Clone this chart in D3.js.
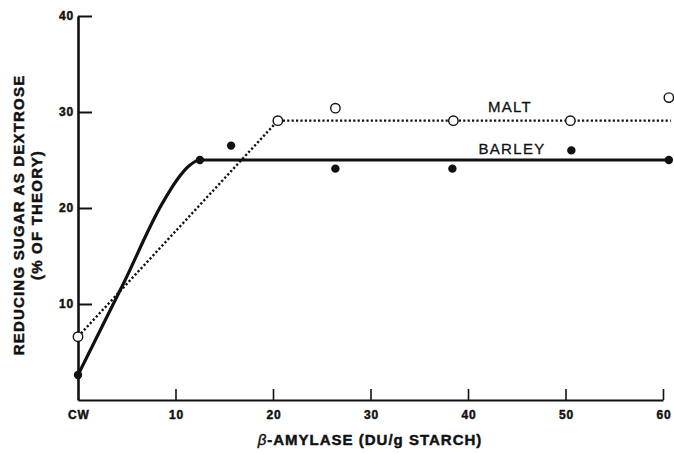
<!DOCTYPE html>
<html>
<head>
<meta charset="utf-8">
<script src="https://cdn.jsdelivr.net/npm/d3@7"></script>
<style>
  html, body { margin: 0; padding: 0; background: #fff; }
  svg { display: block; }
  text { font-family: "Liberation Sans", Arial, Helvetica, sans-serif; fill: #111; }
</style>
</head>
<body>
<svg id="chart" width="674" height="454"></svg>
<script>
// Measured points: beta-amylase dose (DU/g starch; CW = 0) vs reducing sugar (% of theory)
const maltDose    = [0, 20.5, 26.4, 38.5, 50.5, 60.6];
const maltSugar   = [6.6, 29.1, 30.4, 29.1, 29.1, 31.5];
const barleyDose  = [0, 12.5, 15.7, 26.4, 38.4, 50.6, 60.6];
const barleySugar = [2.6, 25.0, 26.5, 24.1, 24.1, 26.0, 25.0];

// Fitted response curves
const maltFitDose    = [0, 20.5, 60.8];
const maltFitSugar   = [6.6, 29.1, 29.1];
const barleyFitDose  = [0, 4.6, 8.6, 10.2, 11.4, 12.5, 60.6];
const barleyFitSugar = [2.6, 12.0, 20.4, 23.0, 24.4, 25.0, 25.0];

// Axis ticks and labels
const xTicks = [0, 10, 20, 30, 40, 50, 60];
const xTickLabels = ["CW", "10", "20", "30", "40", "50", "60"];
const yTicks = [10, 20, 30, 40];
const seriesNames = ["MALT", "BARLEY"];

const zip = (a, b) => a.map((v, i) => [v, b[i]]);
const FONT = '"Liberation Sans", Arial, sans-serif';

// Heavier bold text, like a photoset Helvetica Bold
const heavy = sel => sel.attr("stroke", "#111").attr("stroke-width", 0.45)
  .attr("paint-order", "stroke");

const svg = d3.select("#chart");
const x = d3.scaleLinear().domain([0, 60]).range([78, 663]);
const y = d3.scaleLinear().domain([0, 40]).range([400, 16]);

// Y axis: ticks point inward
const yAxis = svg.append("g")
  .attr("transform", `translate(${x(0)},0)`)
  .call(d3.axisLeft(y).tickValues(yTicks).tickSizeInner(-14).tickSizeOuter(0).tickPadding(4));
yAxis.select(".domain").attr("stroke", "#111").attr("stroke-width", 2.6);
yAxis.selectAll(".tick line").attr("stroke", "#111").attr("stroke-width", 2);
yAxis.selectAll(".tick text")
  .attr("font-size", 12).attr("font-weight", "bold").attr("letter-spacing", 0.8)
  .style("font-family", FONT).attr("fill", "#111").call(heavy);

// X axis: ticks point upward, CW marks the zero dose
const xAxis = svg.append("g")
  .attr("transform", `translate(0,${y(0)})`)
  .call(d3.axisBottom(x).tickValues(xTicks)
    .tickFormat((d, i) => xTickLabels[i])
    .tickSizeInner(-11).tickSizeOuter(0).tickPadding(10));
xAxis.select(".domain").attr("stroke", "#111").attr("stroke-width", 2);
xAxis.selectAll(".tick line").attr("stroke", "#111").attr("stroke-width", 1.6)
  .filter(d => d === 0).remove();
xAxis.selectAll(".tick text")
  .attr("font-size", 12).attr("font-weight", "bold").attr("letter-spacing", 0.8)
  .attr("dx", "0.4")
  .style("font-family", FONT).attr("fill", "#111").call(heavy);

// Fitted curves
const line = d3.line().x(d => x(d[0])).y(d => y(d[1]));
svg.append("path")
  .attr("d", line.curve(d3.curveLinear)(zip(maltFitDose, maltFitSugar)))
  .attr("fill", "none").attr("stroke", "#111").attr("stroke-width", 2.4)
  .attr("stroke-dasharray", "2.2 2.2");
svg.append("path")
  .attr("d", line.curve(d3.curveMonotoneX)(zip(barleyFitDose, barleyFitSugar)))
  .attr("fill", "none").attr("stroke", "#111").attr("stroke-width", 3.2)
  .attr("stroke-linejoin", "round");

// Data points: open = malt, filled = barley
svg.append("g").selectAll("circle")
  .data(zip(maltDose, maltSugar)).join("circle")
  .attr("cx", d => x(d[0])).attr("cy", d => y(d[1])).attr("r", 4.7)
  .attr("fill", "#fff").attr("stroke", "#111").attr("stroke-width", 1.4);
svg.append("g").selectAll("circle")
  .data(zip(barleyDose, barleySugar)).join("circle")
  .attr("cx", d => x(d[0])).attr("cy", d => y(d[1])).attr("r", 4.2)
  .attr("fill", "#111");

// Series labels
svg.append("text").attr("x", 510).attr("y", 112).attr("text-anchor", "middle")
  .attr("font-size", 15).attr("letter-spacing", 1.3)
  .attr("stroke", "#111").attr("stroke-width", 0.3).text(seriesNames[0]);
svg.append("text").attr("x", 512).attr("y", 154).attr("text-anchor", "middle")
  .attr("font-size", 15).attr("letter-spacing", 1.3)
  .attr("stroke", "#111").attr("stroke-width", 0.3).text(seriesNames[1]);

// Axis titles
const xt = svg.append("text").attr("x", 370).attr("y", 445).attr("text-anchor", "middle")
  .attr("font-size", 15).attr("font-weight", "bold").attr("letter-spacing", 1).call(heavy);
xt.append("tspan").attr("font-style", "italic").attr("font-weight", "normal").text("β");
xt.append("tspan").text("-AMYLASE (DU/g STARCH)");

const yt = svg.append("g").attr("transform", "rotate(-90)");
yt.append("text").attr("x", -215).attr("y", 24).attr("text-anchor", "middle")
  .attr("font-size", 15).attr("font-weight", "bold").attr("letter-spacing", 1.2).call(heavy)
  .text("REDUCING SUGAR AS DEXTROSE");
yt.append("text").attr("x", -215).attr("y", 42).attr("text-anchor", "middle")
  .attr("font-size", 15).attr("font-weight", "bold").attr("letter-spacing", 1.2).call(heavy)
  .text("(% OF THEORY)");
</script>
</body>
</html>
